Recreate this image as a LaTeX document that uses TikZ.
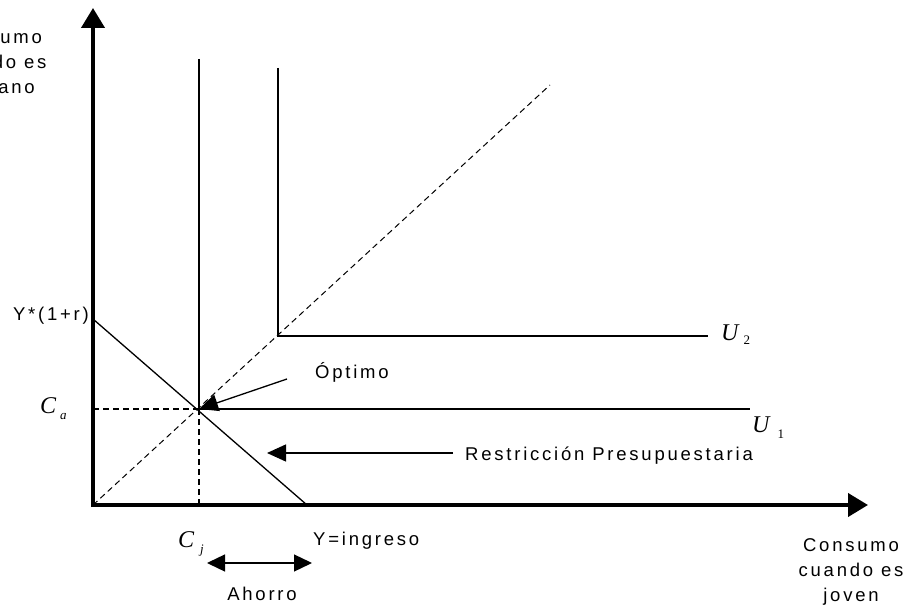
\documentclass[tikz,border=0pt]{standalone}
\usepackage{fontspec}
\setmainfont{Liberation Sans}
\newfontfamily\lblfont[LetterSpace=15]{Liberation Sans}
\newfontfamily\varfont{Liberation Serif}
\usetikzlibrary{arrows.meta}
\begin{document}
\begin{tikzpicture}[x=1pt,y=-1pt,
  lbl/.style={inner sep=0pt,font=\fontsize{18.5}{25}\selectfont\lblfont},
  mlbl/.style={inner sep=0pt,anchor=base west},
  axis/.style={line width=4pt,-{Triangle[length=20pt,width=23pt]}},
  thin/.style={line width=1.3pt},
  pointer/.style={line width=1.3pt,-{Triangle[length=19pt,width=17pt]}},
  guide/.style={line width=1.8pt,dash pattern=on 6pt off 4pt},
  ray/.style={line width=1pt,dash pattern=on 6pt off 4pt}]
\clip (0,0) rectangle (912,609);
\fill[white] (0,0) rectangle (912,609);
% coordinates
\coordinate (o) at (93,505);
\coordinate (ytip) at (93,8);
\coordinate (xtip) at (868,505);
\coordinate (opt) at (199,409);
\coordinate (bt) at (93,319);
\coordinate (bb) at (307,505);
\coordinate (u1top) at (199,59);
\coordinate (u1end) at (750,409);
\coordinate (u2c) at (278,336);
\coordinate (u2top) at (278,68);
\coordinate (u2end) at (708,336);
\coordinate (rayend) at (550,85);
\coordinate (cax) at (93,409);
\coordinate (cjx) at (199,505);
\coordinate (optstart) at (287,379);
\coordinate (rstart) at (453,453);
\coordinate (rend) at (267,453);
\coordinate (ahl) at (207,563);
\coordinate (ahr) at (312,563);
% axes
\draw[axis] (93,507) -- (ytip);
\draw[axis] (91,505) -- (xtip);
% guides
\draw[guide] (cax) -- (opt);
\draw[guide] (opt) -- (cjx);
\draw[ray] (o) -- (rayend);
% budget line
\draw[thin] (bt) -- (bb);
% indifference curves
\draw[thin] (u1top) -- (opt) -- (u1end);
\draw[thin] (u2top) -- (u2c) -- (u2end);
% pointers
\draw[pointer] (optstart) -- (opt);
\draw[pointer] (rstart) -- (rend);
\draw[line width=1.3pt,{Triangle[length=18pt,width=17pt]}-{Triangle[length=18pt,width=17pt]}] (ahl) -- (ahr);
% labels
\node[lbl,align=center] (ylab) at (-6,62) {Consumo\\cuando es\\anciano};
\node[lbl,align=center] (xlab) at (851,572) {Consumo\\cuando es\\joven};
\node[lbl,anchor=base east] (yr) at (89,320) {Y*(1+r)};
\node[lbl,anchor=base west] (ying) at (313,545) {Y=ingreso};
\node[lbl,anchor=base west] (optl) at (315,378) {Óptimo};
\node[lbl,anchor=base west] (restr) at (465,460) {Restricción Presupuestaria};
\node[lbl,anchor=base] (ahorro) at (262,600) {Ahorro};
\node[mlbl] (ca) at (40,413) {\fontsize{24}{24}\selectfont\varfont\itshape C\hspace{4pt}\raisebox{-6pt}{\fontsize{13}{13}\selectfont a}};
\node[mlbl] (cj) at (178,547) {\fontsize{24}{24}\selectfont\varfont\itshape C\hspace{6pt}\raisebox{-6pt}{\fontsize{13}{13}\selectfont j}};
\node[mlbl] (u2) at (721,340) {\fontsize{24}{24}\selectfont\varfont\itshape U\hspace{5pt}\raisebox{-5pt}{\fontsize{13}{13}\selectfont\upshape 2}};
\node[mlbl] (u1) at (752,432) {\fontsize{24}{24}\selectfont\varfont\itshape U\hspace{8pt}\raisebox{-6pt}{\fontsize{13}{13}\selectfont\upshape 1}};
\end{tikzpicture}
\end{document}
